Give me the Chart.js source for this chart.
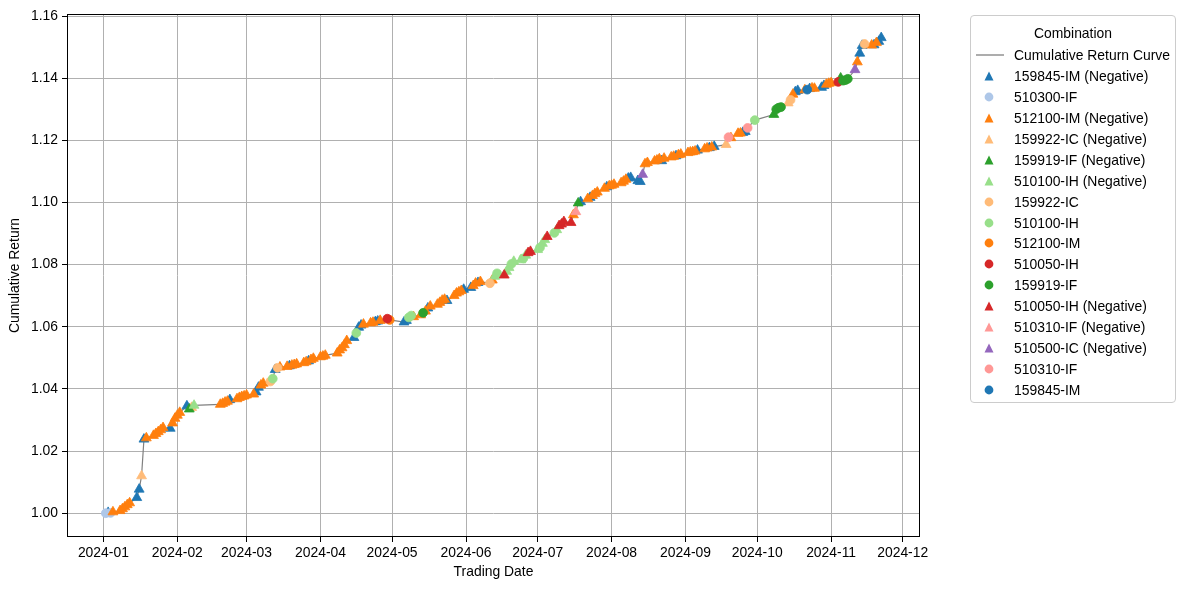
<!DOCTYPE html>
<html>
<head>
<meta charset="utf-8">
<script src="https://cdn.jsdelivr.net/npm/chart.js@4.4.1/dist/chart.umd.min.js"></script>
<style>
html,body{margin:0;padding:0;background:#fff;}
#wrap{position:relative;width:1186px;height:589px;font-family:"Liberation Sans",Arial,Helvetica,sans-serif;color:#000;}
#chart{position:absolute;left:0;top:0;}
#legend{position:absolute;left:970px;top:15px;width:206px;height:388px;box-sizing:border-box;border:1px solid #cccccc;border-radius:4px;background:rgba(255,255,255,0.85);font-size:13.9px;}
#legend .ttl{position:absolute;left:0;width:100%;text-align:center;line-height:16px;}
#legend .lbl{position:absolute;left:43px;line-height:16px;white-space:nowrap;}
#legend svg{position:absolute;}
</style>
</head>
<body>
<div id="wrap">
<canvas id="chart" width="1186" height="589"></canvas>
<div id="legend"></div>
</div>
<script>
// ---- legend / series definitions ----
const combinations = [
  '159845-IM (Negative)','510300-IF','512100-IM (Negative)','159922-IC (Negative)',
  '159919-IF (Negative)','510100-IH (Negative)','159922-IC','510100-IH',
  '512100-IM','510050-IH','159919-IF','510050-IH (Negative)',
  '510310-IF (Negative)','510500-IC (Negative)','510310-IF','159845-IM'
];
const comboColors = [
  '#1f77b4','#aec7e8','#ff7f0e','#ffbb78',
  '#2ca02c','#98df8a','#ffbb78','#98df8a',
  '#ff7f0e','#d62728','#2ca02c','#d62728',
  '#ff9896','#9467bd','#ff9896','#1f77b4'
];
const comboMarkers = [
  'triangle','circle','triangle','triangle',
  'triangle','triangle','circle','circle',
  'circle','circle','circle','triangle',
  'triangle','triangle','circle','circle'
];

// ---- data: trading dates, cumulative return, combination index ----
const dates = [
 '2024-01-02','2024-01-03','2024-01-04','2024-01-05','2024-01-08','2024-01-09','2024-01-10','2024-01-11','2024-01-12',
 '2024-01-15','2024-01-16','2024-01-17','2024-01-18','2024-01-19','2024-01-22','2024-01-23','2024-01-24','2024-01-25',
 '2024-01-26','2024-01-29','2024-01-30','2024-01-31',
 '2024-02-01','2024-02-02','2024-02-05','2024-02-06','2024-02-07','2024-02-08','2024-02-19','2024-02-20','2024-02-21',
 '2024-02-22','2024-02-23','2024-02-26','2024-02-27','2024-02-28','2024-02-29',
 '2024-03-01','2024-03-04','2024-03-05','2024-03-06','2024-03-07','2024-03-08','2024-03-11','2024-03-12','2024-03-13',
 '2024-03-14','2024-03-15','2024-03-18','2024-03-19','2024-03-20','2024-03-21','2024-03-22','2024-03-25','2024-03-26',
 '2024-03-27','2024-03-28','2024-03-29',
 '2024-04-01','2024-04-02','2024-04-03','2024-04-08','2024-04-09','2024-04-10','2024-04-11','2024-04-12','2024-04-15',
 '2024-04-16','2024-04-17','2024-04-18','2024-04-19','2024-04-22','2024-04-23','2024-04-24','2024-04-25','2024-04-26',
 '2024-04-29','2024-04-30',
 '2024-05-06','2024-05-07','2024-05-08','2024-05-09','2024-05-10','2024-05-13','2024-05-14','2024-05-15','2024-05-16',
 '2024-05-17','2024-05-20','2024-05-21','2024-05-22','2024-05-23','2024-05-24','2024-05-27','2024-05-28','2024-05-29',
 '2024-05-30','2024-05-31',
 '2024-06-03','2024-06-04','2024-06-05','2024-06-06','2024-06-07','2024-06-11','2024-06-12','2024-06-13','2024-06-14',
 '2024-06-17','2024-06-18','2024-06-19','2024-06-20','2024-06-21','2024-06-24','2024-06-25','2024-06-26','2024-06-27',
 '2024-06-28',
 '2024-07-01','2024-07-02','2024-07-03','2024-07-04','2024-07-05','2024-07-08','2024-07-09','2024-07-10','2024-07-11',
 '2024-07-12','2024-07-15','2024-07-16','2024-07-17','2024-07-18','2024-07-19','2024-07-22','2024-07-23','2024-07-24',
 '2024-07-25','2024-07-26','2024-07-29','2024-07-30','2024-07-31',
 '2024-08-01','2024-08-02','2024-08-05','2024-08-06','2024-08-07','2024-08-08','2024-08-09','2024-08-12','2024-08-13',
 '2024-08-14','2024-08-15','2024-08-16','2024-08-19','2024-08-20','2024-08-21','2024-08-22','2024-08-23','2024-08-26',
 '2024-08-27','2024-08-28','2024-08-29','2024-08-30',
 '2024-09-02','2024-09-03','2024-09-04','2024-09-05','2024-09-06','2024-09-09','2024-09-10','2024-09-11','2024-09-12',
 '2024-09-13','2024-09-18','2024-09-19','2024-09-20','2024-09-23','2024-09-24','2024-09-25','2024-09-26','2024-09-27',
 '2024-09-30',
 '2024-10-08','2024-10-09','2024-10-10','2024-10-11','2024-10-14','2024-10-15','2024-10-16','2024-10-17','2024-10-18',
 '2024-10-21','2024-10-22','2024-10-23','2024-10-24','2024-10-25','2024-10-28','2024-10-29','2024-10-30','2024-10-31',
 '2024-11-01','2024-11-04','2024-11-05','2024-11-06','2024-11-07','2024-11-08','2024-11-11','2024-11-12','2024-11-13',
 '2024-11-14','2024-11-15','2024-11-18','2024-11-19','2024-11-20','2024-11-21','2024-11-22'
];
const cumReturn = [
 1.0000,1.0002,1.0001,1.0004,1.0008,1.0014,1.0020,1.0027,1.0033,
 1.0050,1.0077,1.0120,1.0238,1.0242,1.0250,1.0256,1.0262,1.0268,
 1.0275,1.0273,1.0290,1.0305,
 1.0315,1.0324,1.0345,1.0335,1.0340,1.0347,1.0350,1.0353,1.0357,
 1.0360,1.0365,1.0368,1.0372,1.0375,1.0377,
 1.0380,1.0383,1.0390,1.0405,1.0412,1.0418,1.0424,1.0433,1.0462,
 1.0468,1.0470,1.0472,1.0474,1.0476,1.0478,1.0480,1.0484,1.0487,
 1.0490,1.0494,1.0498,
 1.0503,1.0505,1.0508,1.0515,1.0525,1.0532,1.0542,1.0555,1.0565,
 1.0580,1.0598,1.0605,1.0608,1.0612,1.0614,1.0616,1.0618,1.0620,
 1.0626,1.0622,
 1.0615,1.0620,1.0630,1.0636,1.0632,1.0638,1.0645,1.0650,1.0660,
 1.0666,1.0672,1.0678,1.0685,1.0688,1.0684,1.0700,1.0708,1.0712,
 1.0716,1.0720,
 1.0726,1.0732,1.0740,1.0742,1.0745,1.0740,1.0750,1.0762,1.0772,
 1.0766,1.0778,1.0790,1.0802,1.0810,1.0815,1.0820,1.0830,1.0838,
 1.0842,
 1.0848,1.0855,1.0868,1.0880,1.0890,1.0902,1.0912,1.0925,1.0930,
 1.0938,1.0935,1.0960,1.0970,1.0998,1.1002,1.1012,1.1016,1.1022,
 1.1028,1.1033,1.1045,1.1050,1.1053,
 1.1055,1.1058,1.1063,1.1068,1.1074,1.1078,1.1080,1.1070,1.1067,
 1.1090,1.1124,1.1128,1.1133,1.1136,1.1140,1.1134,1.1142,1.1146,
 1.1148,1.1150,1.1153,1.1155,
 1.1160,1.1162,1.1163,1.1165,1.1168,1.1172,1.1175,1.1176,1.1178,
 1.1180,1.1186,1.1210,1.1208,1.1222,1.1223,1.1225,1.1228,1.1240,
 1.1265,
 1.1283,1.1300,1.1305,1.1307,1.1320,1.1330,1.1348,1.1356,1.1360,
 1.1362,1.1363,1.1366,1.1368,1.1367,1.1370,1.1376,1.1380,1.1383,
 1.1385,1.1388,1.1400,1.1392,1.1394,1.1398,1.1427,1.1452,1.1480,
 1.1505,1.1510,1.1506,1.1507,1.1514,1.1518,1.1530
];
const comboIdx = [
 1,0,1,2,2,2,2,2,2,
 0,0,3,0,2,2,2,2,2,
 2,0,2,2,
 2,2,0,4,3,5,2,2,2,
 2,0,2,2,2,2,
 2,2,0,0,2,2,6,7,0,
 6,2,2,0,2,2,2,2,2,
 0,2,2,
 2,2,2,2,2,2,2,2,0,
 7,0,0,2,2,2,0,0,2,
 9,8,
 0,0,7,7,2,2,10,2,0,
 2,2,2,2,2,0,2,2,2,
 2,0,
 0,2,2,0,2,6,2,5,7,
 11,5,5,7,5,5,7,5,11,
 11,
 5,7,5,5,11,7,5,11,11,
 11,11,2,12,4,0,2,0,2,
 2,2,2,0,2,
 2,2,2,2,2,0,0,0,0,
 13,2,2,2,2,2,0,2,2,
 2,0,2,2,
 2,2,2,2,0,2,2,0,2,
 0,3,14,2,2,2,0,0,14,
 7,
 4,10,10,10,3,6,2,0,0,
 2,15,0,2,2,0,0,2,2,
 2,9,4,10,10,10,13,2,0,
 0,6,2,0,2,0,0
];

const xTickLabels = ['2024-01','2024-02','2024-03','2024-04','2024-05','2024-06',
                     '2024-07','2024-08','2024-09','2024-10','2024-11','2024-12'];
const yTickValues = [1.00,1.02,1.04,1.06,1.08,1.10,1.12,1.14,1.16];

// ---- helpers ----
const T0 = Date.UTC(2024,0,1), DAY = 86400000;
function dayNum(s){ const p = s.split('-').map(Number); return (Date.UTC(p[0],p[1]-1,p[2]||1)-T0)/DAY; }
const xs = dates.map(dayNum);
const monthTicks = xTickLabels.map(l => dayNum(l + '-01'));

// matplotlib-like 5% margins
const xLo = Math.min(...xs), xHi = Math.max(...xs);
const yLo = Math.min(...cumReturn), yHi = Math.max(...cumReturn);
const xMin = xLo - 0.05*(xHi-xLo), xMax = xHi + 0.05*(xHi-xLo);
const yMin = yLo - 0.05*(yHi-yLo), yMax = yHi + 0.05*(yHi-yLo);

const FONT = "'Liberation Sans', Arial, Helvetica, sans-serif";
const FS = 13.9;
Chart.defaults.font.family = FONT;
Chart.defaults.font.size = FS;
Chart.defaults.color = '#000';

const datasets = [{
  type: 'scatter',
  label: 'Cumulative Return Curve',
  data: xs.map((x,i) => ({x:x, y:cumReturn[i]})),
  showLine: true,
  borderColor: '#808080',
  backgroundColor: '#808080',
  borderWidth: 1.2,
  pointRadius: 0,
  order: 100
}];
combinations.forEach((name, ci) => {
  const pts = [];
  xs.forEach((x,i) => { if (comboIdx[i] === ci) pts.push({x:x, y:cumReturn[i]}); });
  const tri = comboMarkers[ci] === 'triangle';
  datasets.push({
    type: 'scatter',
    label: name,
    data: pts,
    pointStyle: comboMarkers[ci],
    pointRadius: tri ? 5.7 : 4.4,
    pointBorderWidth: 0.8,
    pointBackgroundColor: comboColors[ci],
    pointBorderColor: comboColors[ci],
    backgroundColor: comboColors[ci],
    borderColor: comboColors[ci],
    order: 50 - ci
  });
});

const framePlugin = {
  id: 'frame',
  afterDatasetsDraw(chart) {
    const a = chart.chartArea, ctx = chart.ctx;
    ctx.save();
    ctx.strokeStyle = '#000';
    ctx.lineWidth = 1;
    ctx.strokeRect(Math.round(a.left)+0.5, Math.round(a.top)+0.5,
                   Math.round(a.right-a.left)-1, Math.round(a.bottom-a.top)-1);
    ctx.restore();
  }
};

new Chart(document.getElementById('chart'), {
  type: 'scatter',
  data: { datasets: datasets },
  options: {
    responsive: false,
    devicePixelRatio: 1,
    animation: false,
    events: [],
    layout: { padding: { left: 0, top: 14, right: 266, bottom: 0 } },
    plugins: { legend: { display: false }, tooltip: { enabled: false } },
    scales: {
      x: {
        type: 'linear', min: xMin, max: xMax,
        afterBuildTicks: s => { s.ticks = monthTicks.map(v => ({value: v})); },
        afterFit: s => { s.height = 52; },
        ticks: { autoSkip: false, maxRotation: 0, padding: 3,
                 callback: (v, i) => xTickLabels[i] },
        grid: { color: '#b0b0b0', lineWidth: 1, tickColor: '#000', tickLength: 5, drawTicks: true },
        border: { display: false },
        title: { display: true, text: 'Trading Date', padding: { top: 0, bottom: 8 } }
      },
      y: {
        type: 'linear', min: yMin, max: yMax,
        afterBuildTicks: s => { s.ticks = yTickValues.map(v => ({value: v})); },
        afterFit: s => { s.width = 67; },
        ticks: { padding: 4, callback: v => Number(v).toFixed(2) },
        grid: { color: '#b0b0b0', lineWidth: 1, tickColor: '#000', tickLength: 5, drawTicks: true },
        border: { display: false },
        title: { display: true, text: 'Cumulative Return', padding: { top: 7, bottom: 0 } }
      }
    }
  },
  plugins: [framePlugin]
});

// ---- HTML legend ----
(function(){
  const lg = document.getElementById('legend');
  const NS = 'http://www.w3.org/2000/svg';
  const t = document.createElement('div');
  t.className = 'ttl'; t.textContent = 'Combination'; t.style.top = (18-8-1) + 'px';
  lg.appendChild(t);
  const rows = [{name:'Cumulative Return Curve', line:true}].concat(
    combinations.map((n,i)=>({name:n, color:comboColors[i], marker:comboMarkers[i]})));
  rows.forEach((r, i) => {
    const cy = 40 + i*20.94 - 1;
    const svg = document.createElementNS(NS,'svg');
    if (r.line) {
      svg.setAttribute('width', 30); svg.setAttribute('height', 6);
      svg.style.left = '4px'; svg.style.top = (cy-3) + 'px';
      const l = document.createElementNS(NS,'line');
      l.setAttribute('x1',1); l.setAttribute('x2',29); l.setAttribute('y1',3); l.setAttribute('y2',3);
      l.setAttribute('stroke','#808080'); l.setAttribute('stroke-width','1.3');
      svg.appendChild(l);
    } else {
      svg.setAttribute('width', 12); svg.setAttribute('height', 12);
      svg.style.left = (18-6) + 'px'; svg.style.top = (cy-6) + 'px';
      let sh;
      if (r.marker === 'triangle') {
        sh = document.createElementNS(NS,'polygon');
        sh.setAttribute('points','6,1.5 10.5,10.5 1.5,10.5');
      } else {
        sh = document.createElementNS(NS,'circle');
        sh.setAttribute('cx',6); sh.setAttribute('cy',6); sh.setAttribute('r',4.4);
      }
      sh.setAttribute('fill', r.color);
      svg.appendChild(sh);
    }
    lg.appendChild(svg);
    const lb = document.createElement('div');
    lb.className = 'lbl'; lb.textContent = r.name; lb.style.top = (cy-8) + 'px';
    lg.appendChild(lb);
  });
})();
</script>
</body>
</html>
